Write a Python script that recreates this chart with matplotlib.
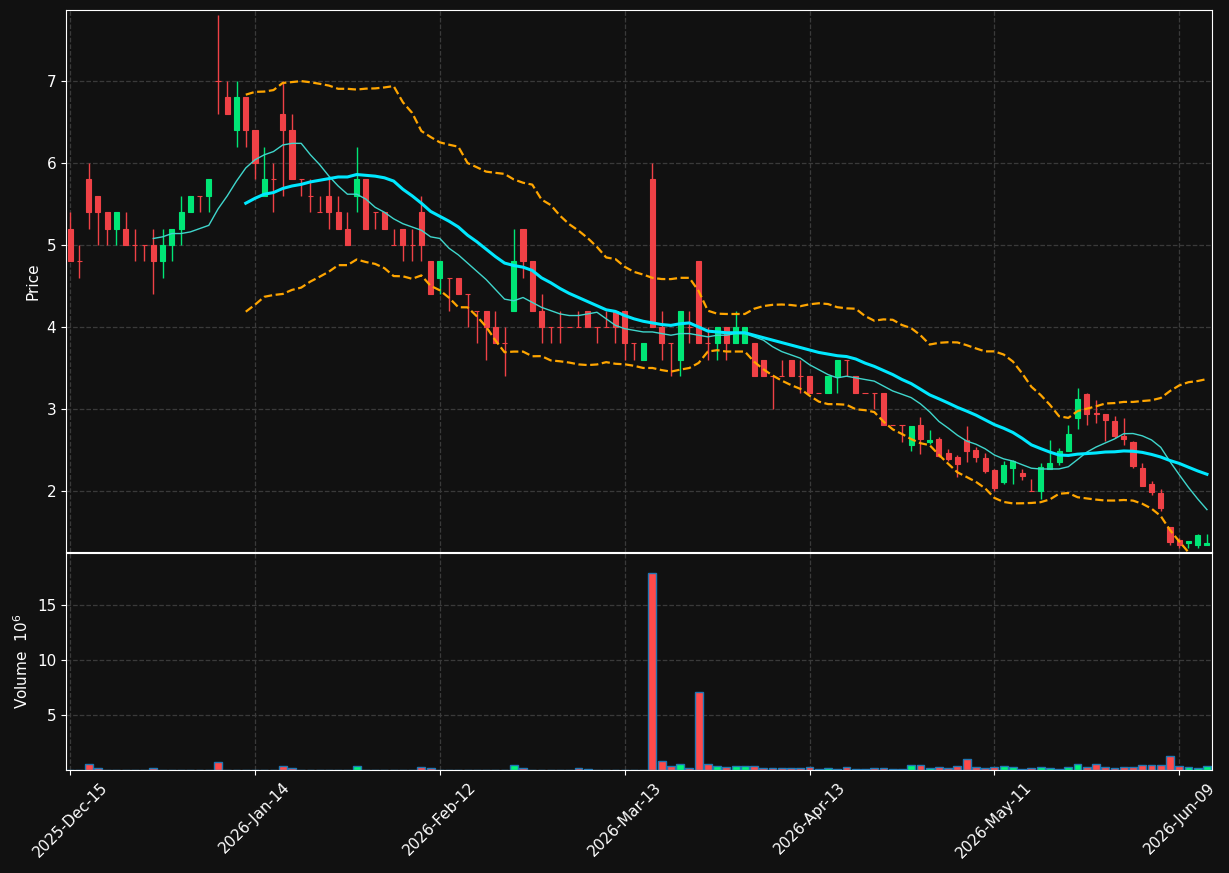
import matplotlib
matplotlib.use("Agg")
import matplotlib.pyplot as plt
import numpy as np
import pandas as pd

# daily OHLC
opens = [5.2, 4.8, 5.8, 5.6, 5.4, 5.2, 5.2, 5.0, 5.0, 5.0,
         4.8, 5.0, 5.2, 5.4, 5.6, 5.6, 7.0, 6.8, 6.4, 6.8,
         6.4, 5.6, 5.8, 6.6, 6.4, 5.8, 5.6, 5.4, 5.6, 5.4,
         5.2, 5.6, 5.8, 5.4, 5.4, 5.0, 5.2, 5.0, 5.4, 4.8,
         4.6, 4.6, 4.6, 4.4, 4.2, 4.2, 4.0, 3.8, 4.2, 5.2,
         4.8, 4.2, 4.0, 4.0, 4.0, 4.0, 4.2, 4.0, 4.0, 4.2,
         4.2, 3.8, 3.6, 5.8, 4.0, 3.8, 3.6, 4.0, 4.8, 3.8,
         3.8, 4.0, 3.8, 3.8, 3.8, 3.6, 3.4, 3.4, 3.6, 3.4,
         3.4, 3.2, 3.2, 3.4, 3.6, 3.4, 3.2, 3.2, 3.2, 2.8,
         2.8, 2.56, 2.80, 2.60, 2.63, 2.46, 2.41, 2.62, 2.50, 2.40,
         2.25, 2.11, 2.28, 2.22, 2.00, 2.00, 2.27, 2.35, 2.49, 2.89,
         3.18, 2.95, 2.94, 2.85, 2.67, 2.60, 2.28, 2.09, 1.97, 1.56,
         1.40, 1.37, 1.34, 1.34]
highs = [5.4, 5.0, 6.0, 5.6, 5.4, 5.4, 5.4, 5.2, 5.0, 5.2,
         5.2, 5.2, 5.6, 5.6, 5.6, 5.8, 7.8, 7.0, 7.0, 6.8,
         6.4, 6.2, 6.0, 7.0, 6.6, 5.8, 5.8, 5.6, 5.8, 5.6,
         5.4, 6.2, 5.8, 5.4, 5.4, 5.2, 5.2, 5.2, 5.6, 4.8,
         4.8, 4.6, 4.6, 4.4, 4.2, 4.2, 4.2, 4.0, 5.2, 5.2,
         4.8, 4.4, 4.0, 4.2, 4.0, 4.2, 4.2, 4.0, 4.2, 4.2,
         4.2, 3.8, 3.8, 6.0, 4.2, 3.8, 4.2, 4.2, 4.8, 4.0,
         4.0, 4.0, 4.2, 4.0, 3.8, 3.6, 3.4, 3.6, 3.6, 3.6,
         3.4, 3.2, 3.4, 3.6, 3.6, 3.4, 3.2, 3.2, 3.2, 2.8,
         2.8, 2.79, 2.90, 2.75, 2.66, 2.51, 2.44, 2.79, 2.54, 2.46,
         2.27, 2.37, 2.38, 2.27, 2.15, 2.34, 2.62, 2.53, 2.80, 3.26,
         3.20, 3.11, 2.94, 2.91, 2.89, 2.61, 2.34, 2.12, 2.02, 1.56,
         1.43, 1.39, 1.47, 1.47]
lows = [4.8, 4.6, 5.2, 5.0, 5.0, 5.0, 5.0, 4.8, 4.8, 4.4,
        4.6, 4.8, 5.0, 5.4, 5.4, 5.4, 6.6, 6.6, 6.2, 6.2,
        5.8, 5.6, 5.4, 5.6, 5.8, 5.6, 5.4, 5.4, 5.2, 5.2,
        5.0, 5.4, 5.2, 5.2, 5.2, 5.0, 4.8, 4.8, 4.8, 4.4,
        4.4, 4.2, 4.4, 4.0, 3.8, 3.6, 3.8, 3.4, 4.2, 4.6,
        4.2, 3.8, 3.8, 3.8, 4.0, 4.0, 4.0, 3.8, 4.0, 3.8,
        3.6, 3.6, 3.6, 4.0, 3.6, 3.4, 3.4, 3.8, 3.8, 3.6,
        3.6, 3.6, 3.8, 3.8, 3.4, 3.4, 3.0, 3.4, 3.4, 3.2,
        3.2, 3.2, 3.2, 3.2, 3.4, 3.2, 3.2, 3.0, 2.8, 2.8,
        2.6, 2.49, 2.45, 2.57, 2.42, 2.36, 2.17, 2.35, 2.35, 2.22,
        2.00, 2.09, 2.09, 2.14, 2.00, 1.90, 2.27, 2.32, 2.49, 2.76,
        2.81, 2.83, 2.61, 2.65, 2.56, 2.28, 2.06, 1.95, 1.75, 1.34,
        1.30, 1.31, 1.31, 1.34]
closes = [4.8, 4.8, 5.4, 5.4, 5.2, 5.4, 5.0, 5.0, 5.0, 4.8,
          5.0, 5.2, 5.4, 5.6, 5.6, 5.8, 7.0, 6.6, 6.8, 6.4,
          6.0, 5.8, 5.8, 6.4, 5.8, 5.8, 5.6, 5.4, 5.4, 5.2,
          5.0, 5.8, 5.2, 5.4, 5.2, 5.0, 5.0, 5.0, 5.0, 4.4,
          4.8, 4.6, 4.4, 4.4, 4.2, 4.0, 3.8, 3.8, 4.8, 4.8,
          4.2, 4.0, 4.0, 4.0, 4.0, 4.0, 4.0, 4.0, 4.0, 4.0,
          3.8, 3.8, 3.8, 4.0, 3.8, 3.8, 4.2, 4.0, 3.8, 3.8,
          4.0, 3.8, 4.0, 4.0, 3.4, 3.4, 3.4, 3.4, 3.4, 3.4,
          3.2, 3.2, 3.4, 3.6, 3.6, 3.2, 3.2, 3.2, 2.8, 2.8,
          2.8, 2.79, 2.64, 2.62, 2.43, 2.39, 2.33, 2.49, 2.42, 2.24,
          2.04, 2.32, 2.37, 2.18, 2.00, 2.29, 2.34, 2.49, 2.69, 3.12,
          2.94, 2.94, 2.87, 2.67, 2.64, 2.31, 2.06, 1.99, 1.79, 1.38,
          1.34, 1.39, 1.46, 1.37]
volume_millions = [0, 0, 0.54, 0.18, 0.03, 0.03, 0.03, 0.03, 0.03, 0.18,
                   0.03, 0.03, 0.03, 0.03, 0.03, 0.03, 0.73, 0.03, 0.03, 0.03,
                   0.03, 0.03, 0.03, 0.36, 0.18, 0.03, 0.03, 0.03, 0.03, 0.03,
                   0.03, 0.36, 0.03, 0.03, 0.03, 0.03, 0.03, 0.03, 0.27, 0.18,
                   0.03, 0.03, 0.03, 0.03, 0.03, 0.03, 0.03, 0.03, 0.45, 0.18,
                   0.03, 0.03, 0.03, 0.03, 0.03, 0.18, 0.05, 0.03, 0.03, 0.03,
                   0.03, 0.03, 0.03, 17.9, 0.82, 0.33, 0.54, 0.18, 7.09, 0.54,
                   0.33, 0.24, 0.33, 0.33, 0.33, 0.15, 0.15, 0.15, 0.15, 0.15,
                   0.27, 0.09, 0.18, 0.09, 0.27, 0.05, 0.05, 0.18, 0.18, 0.05,
                   0.05, 0.45, 0.45, 0.18, 0.27, 0.18, 0.36, 1.0, 0.27, 0.18,
                   0.27, 0.36, 0.27, 0.09, 0.18, 0.27, 0.18, 0.09, 0.27, 0.54,
                   0.27, 0.54, 0.27, 0.18, 0.27, 0.27, 0.45, 0.45, 0.45, 1.27,
                   0.33, 0.27, 0.18, 0.36]
tick_labels = ['2025-Dec-15', '2026-Jan-14', '2026-Feb-12', '2026-Mar-13',
               '2026-Apr-13', '2026-May-11', '2026-Jun-09']
tick_step = 20

bg = '#111111'
up_col = '#00e676'
down_col = '#ef4146'
vol_up = '#00f57a'
vol_down = '#ff4a4a'

o = np.array(opens)
h = np.array(highs)
l = np.array(lows)
c = np.array(closes)
v = np.array(volume_millions)
x = np.arange(len(c))

cs = pd.Series(c)
sma10 = cs.rolling(10).mean()
sma20 = cs.rolling(20).mean()
std20 = cs.rolling(20).std(ddof=0)
upper = sma20 + 2 * std20
lower = sma20 - 2 * std20

is_up = c > o
cols = np.where(is_up, up_col, down_col)
vcols = np.where(is_up, vol_up, vol_down)

fig = plt.figure(figsize=(12.29, 8.73), dpi=100, facecolor=bg)
ax = fig.add_axes([0.0537, 0.3677, 0.9325, 0.6208], facecolor=bg)
axv = fig.add_axes([0.0537, 0.118, 0.9325, 0.2486], facecolor=bg, sharex=ax)

# candles
ax.vlines(x, l, h, colors=cols, linewidth=1)
ax.bar(x, np.abs(c - o), bottom=np.minimum(o, c), width=0.55,
       color=cols, edgecolor=cols, linewidth=0.8)

ax.plot(x, sma10, color='#3fd6cc', linewidth=1)
ax.plot(x, sma20, color='#00e8ff', linewidth=2.2)
ax.plot(x, upper, color='#ffa500', linewidth=1.6, linestyle='--')
ax.plot(x, lower, color='#ffa500', linewidth=1.6, linestyle='--')

axv.bar(x, v, width=0.85, color=vcols, edgecolor='#1f77b4', linewidth=1)

ax.set_xlim(-0.45, 123.55)
ax.set_ylim(1.256, 7.866)
axv.set_ylim(0, 19.73)

ax.set_yticks([2, 3, 4, 5, 6, 7])
axv.set_yticks([5, 10, 15])
ticks = [i * tick_step for i in range(len(tick_labels))]
axv.set_xticks(ticks)
axv.set_xticklabels(tick_labels, rotation=45, ha='center')
plt.setp(ax.get_xticklabels(), visible=False)
ax.tick_params(axis='x', length=0)

for a in (ax, axv):
    a.grid(True, color='#3a3a3a', linestyle='--', linewidth=0.9)
    a.set_axisbelow(True)
    a.tick_params(colors='white', labelsize=11)
    for s in a.spines.values():
        s.set_color('white')

ax.set_ylabel('Price', color='white', fontsize=11)
axv.set_ylabel('Volume  $10^{6}$', color='white', fontsize=11)

fig.savefig('out.png', dpi=100, facecolor=bg)
